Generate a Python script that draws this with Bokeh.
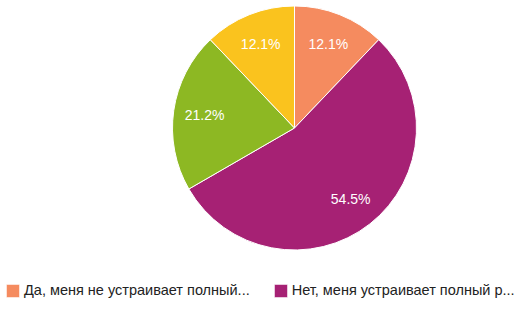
import math
from bokeh.plotting import figure
from bokeh.models import Range1d, Legend, LegendItem, ColumnDataSource
from bokeh.core.properties import value
from bokeh.embed import file_html
from bokeh.resources import INLINE

# Data (slices clockwise from 12 o'clock)
categories = ["Да, меня не устраивает полный...", "Нет, меня устраивает полный р...", "Другое 1", "Другое 2"]
counts = [4, 18, 7, 4]
colors = ["#F58B5F", "#A62174", "#8DB823", "#FAC31E"]

W, H = 514, 313
cx, cy, R = 294, H - 127.5, 122

total = sum(counts)
starts, ends, lx, ly, labels = [], [], [], [], []
cum = 0
for c in counts:
    a0 = math.pi / 2 - 2 * math.pi * cum / total
    cum += c
    a1 = math.pi / 2 - 2 * math.pi * cum / total
    starts.append(a0)
    ends.append(a1)
    mid = (a0 + a1) / 2
    lx.append(cx + 0.745 * R * math.cos(mid))
    ly.append(cy + 0.745 * R * math.sin(mid))
    labels.append(f"{c / total * 100:.1f}%")

src = ColumnDataSource(dict(start=starts, end=ends, color=colors, cat=categories))

p = figure(width=W, height=H, output_backend="svg", toolbar_location=None,
           x_range=Range1d(0, W), y_range=Range1d(0, H), min_border=0)
p.axis.visible = False
p.grid.visible = False
p.outline_line_color = None
p.background_fill_color = "white"
p.border_fill_color = "white"

wr = p.wedge(x=cx, y=cy, radius=R, start_angle="start", end_angle="end",
             direction="clock", fill_color="color", line_color="white",
             line_width=1, source=src)

p.text(x=lx, y=ly, text=labels, text_color="white",
       text_font=value("Liberation Sans"), text_font_size="14px",
       text_align="center", text_baseline="middle")

legend = Legend(items=[LegendItem(label=categories[0], renderers=[wr], index=0),
                       LegendItem(label=categories[1], renderers=[wr], index=1)],
                orientation="horizontal", location=(4, 14.5),
                glyph_width=17, glyph_height=17, label_height=17,
                label_standoff=3, spacing=22, padding=0, margin=0,
                border_line_color=None, background_fill_alpha=0,
                label_text_font="Liberation Sans", label_text_font_size="14.5px",
                label_text_color="#222222")
p.add_layout(legend, "center")

open("out.html", "w").write(file_html(p, INLINE))
